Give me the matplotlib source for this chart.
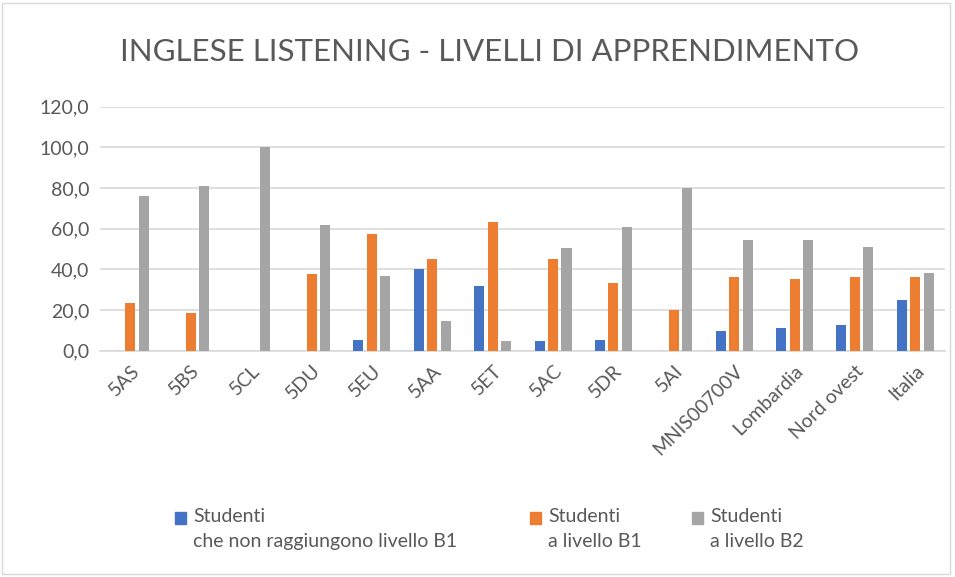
import matplotlib
matplotlib.use("Agg")
import matplotlib.pyplot as plt
import numpy as np
from matplotlib.patches import Rectangle

categories = ["5AS", "5BS", "5CL", "5DU", "5EU", "5AA", "5ET", "5AC", "5DR", "5AI",
              "MNIS00700V", "Lombardia", "Nord ovest", "Italia"]
non_b1 = [0, 0, 0, 0, 5.1, 40.0, 31.8, 4.8, 5.3, 0, 9.8, 11.2, 12.5, 25.1]
liv_b1 = [23.5, 18.6, 0, 38.0, 57.6, 45.0, 63.4, 45.3, 33.2, 20.1, 36.3, 35.3, 36.3, 36.3]
liv_b2 = [76.1, 81.1, 100.0, 62.0, 36.9, 14.5, 4.7, 50.4, 60.9, 80.0, 54.4, 54.4, 51.1, 38.3]
series_labels = ["Studenti\nche non raggiungono livello B1",
                 "Studenti\na livello B1",
                 "Studenti\na livello B2"]
colors = ["#4472C4", "#ED7D31", "#A5A5A5"]
title = "INGLESE LISTENING - LIVELLI DI APPRENDIMENTO"

plt.rcParams['font.family'] = ['Lato', 'DejaVu Sans']
txt = "#595959"

W, H = 955, 577
fig = plt.figure(figsize=(W / 100, H / 100), dpi=100)
ax = fig.add_axes([0.105, 0.392, 0.885, 0.423])

x = np.arange(len(categories))
w = 0.166
off = 0.223
for i, (vals, c) in enumerate(zip([non_b1, liv_b1, liv_b2], colors)):
    ax.bar(x + (i - 1) * off, vals, width=w, color=c, zorder=3)

ax.set_xlim(-0.5, len(categories) - 0.5)
ax.set_ylim(0, 120)
ax.set_yticks(np.arange(0, 121, 20))
ax.set_yticklabels([f"{v:.1f}".replace(".", ",") for v in np.arange(0, 121, 20)],
                   fontsize=14, color=txt)
ax.set_xticks(x)
ax.set_xticklabels(categories, rotation=45, ha="right", rotation_mode="anchor",
                   fontsize=14, color=txt)
ax.tick_params(length=0, pad=8)
ax.grid(axis="y", color="#D9D9D9", linewidth=1.2, zorder=0)
for s in ["top", "right", "left"]:
    ax.spines[s].set_visible(False)
ax.spines["bottom"].set_color("#D9D9D9")
ax.spines["bottom"].set_linewidth(1.2)

fig.text(0.513, 1 - 52 / H, title, ha="center", va="center", fontsize=22.5, color=txt)

# legend entries (square marker aligned with first text line)
pos_px = [175, 530, 692]
for lab, c, px in zip(series_labels, colors, pos_px):
    fig.patches.append(Rectangle((px / W, 1 - 524 / H), 11 / W, 12 / H,
                                 transform=fig.transFigure, color=c))
    fig.text((px + 18) / W, 1 - 508 / H, lab, ha="left", va="top", fontsize=14,
             color=txt, linespacing=1.55, transform=fig.transFigure)

fig.patches.append(Rectangle((0.002, 0.005), 0.993, 0.99, transform=fig.transFigure,
                             fill=False, edgecolor="#D9D9D9", linewidth=1))
fig.savefig("out.png", dpi=100)
